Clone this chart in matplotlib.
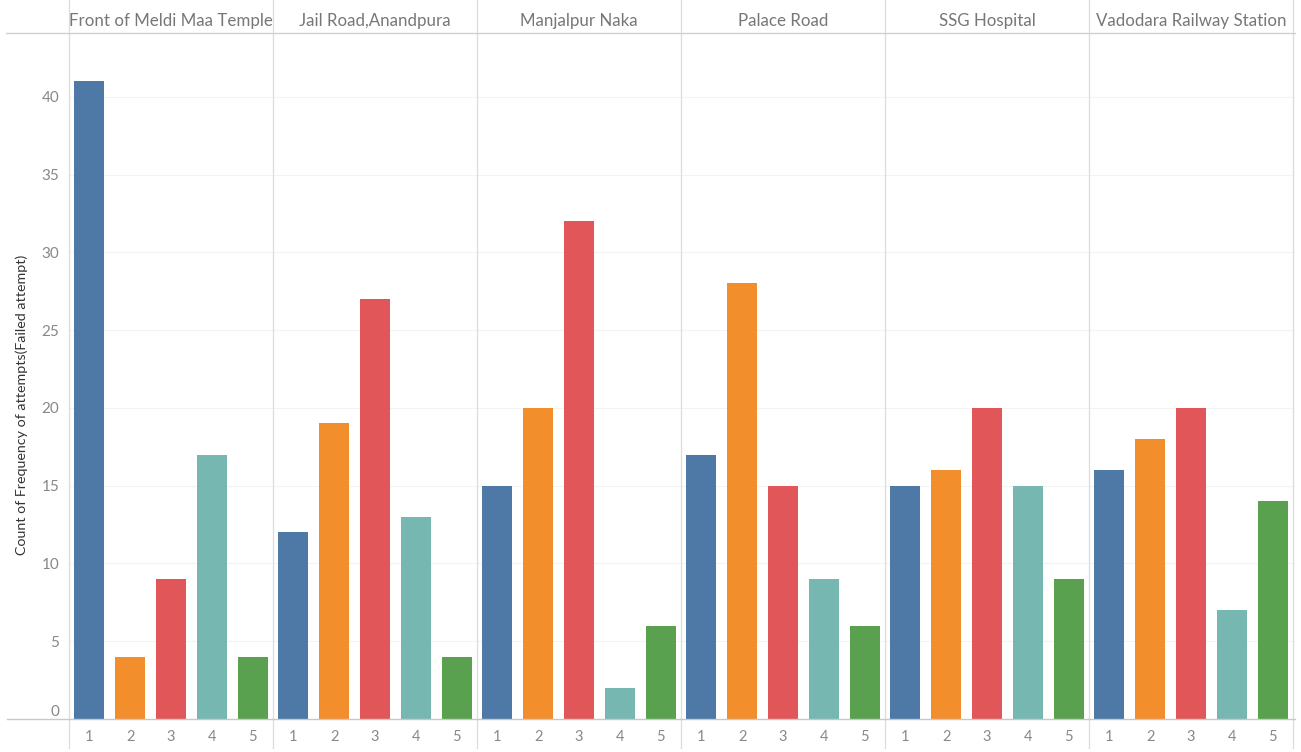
import matplotlib
matplotlib.use("Agg")
import matplotlib.pyplot as plt
from matplotlib.lines import Line2D

# Data: count of failed attempts per location, by attempt frequency
locations = ["Front of Meldi Maa Temple", "Jail Road,Anandpura", "Manjalpur Naka",
             "Palace Road", "SSG Hospital", "Vadodara Railway Station"]
attempts = ["1", "2", "3", "4", "5"]
counts = [
    [41, 4, 9, 17, 4],
    [12, 19, 27, 13, 4],
    [15, 20, 32, 2, 6],
    [17, 28, 15, 9, 6],
    [15, 16, 20, 15, 9],
    [16, 18, 20, 7, 14],
]
yticks = [0, 5, 10, 15, 20, 25, 30, 35, 40]
colors = ["#4e79a7", "#f28e2b", "#e15759", "#76b7b2", "#59a14f"]

plt.rcParams["font.family"] = ["Lato", "DejaVu Sans"]

W, H = 1301, 752
fig = plt.figure(figsize=(W / 100, H / 100), dpi=100)
left, right, bottom, top = 69, 1293, 719, 33
ax = fig.add_axes([left / W, (H - bottom) / H, (right - left) / W, (bottom - top) / H])

n = len(attempts)
for p, vals in enumerate(counts):
    xs = [p * n + i for i in range(n)]
    ax.bar(xs, vals, width=0.74, color=colors, zorder=3)

ax.set_xlim(-0.5, len(locations) * n - 0.5)
ax.set_ylim(0, 44.1)
ax.set_yticks(yticks)
ax.set_yticklabels([str(t) for t in yticks], color="#888888", fontsize=11)
ax.tick_params(axis="y", length=0, pad=7)
ax.get_yticklabels()[0].set_verticalalignment("bottom")
ax.set_xticks(range(len(locations) * n))
ax.set_xticklabels(attempts * len(locations), color="#888888", fontsize=10.5)
ax.tick_params(axis="x", length=0, pad=8)
for s in ax.spines.values():
    s.set_visible(False)

# faint horizontal gridlines
for t in yticks[1:]:
    ax.axhline(t, color="#f3f3f3", lw=0.8, zorder=0)

# panel separators spanning header and tick-label rows
for p in range(len(locations) + 1):
    xd = ax.transData.transform((p * n - 0.5, 0))[0]
    fig.add_artist(Line2D([xd / W, xd / W], [(H - 748) / H, 1.0],
                          transform=fig.transFigure, color="#dcdcdc", lw=0.9))

# header divider and baseline
fig.add_artist(Line2D([6 / W, 1295 / W], [(H - top) / H] * 2,
                      transform=fig.transFigure, color="#d0d0d0", lw=1.0))
fig.add_artist(Line2D([7 / W, 1295 / W], [(H - bottom) / H] * 2,
                      transform=fig.transFigure, color="#c8c8c8", lw=1.0))

# location headers
for p, name in enumerate(locations):
    xc = p * n + (n - 1) / 2
    xd = ax.transData.transform((xc, 0))[0]
    fig.text(xd / W, (H - 21) / H, name, ha="center", va="center",
             color="#777777", fontsize=12.2)

fig.text(22 / W, (H - 405) / H, "Count of Frequency of attempts(Failed attempt)",
         rotation=90, ha="center", va="center", color="#333333", fontsize=10.3)

fig.savefig("out.png", dpi=100, facecolor="white")
